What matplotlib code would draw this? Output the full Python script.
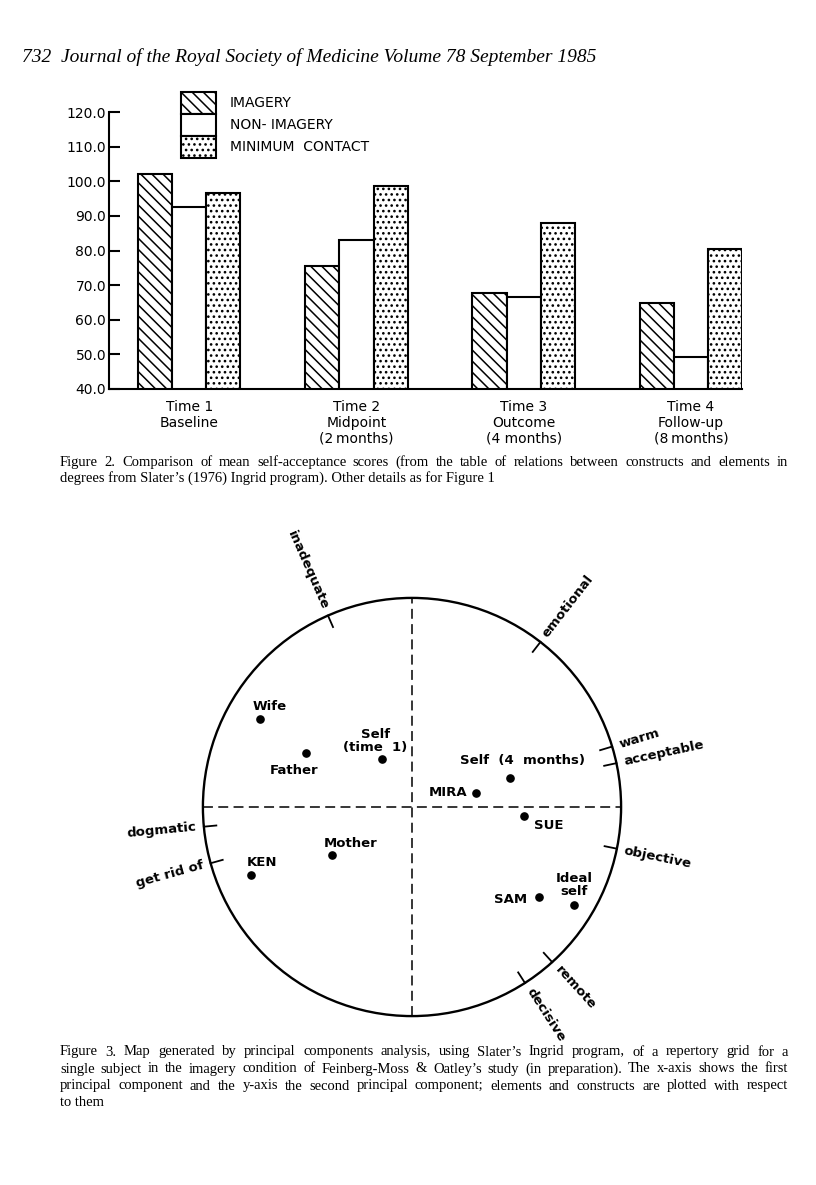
"""
Page 732, J R Soc Med 1985: Figure 2 (self-acceptance bars) and
Figure 3 (principal components map of a repertory grid).
"""

import numpy as np
import matplotlib.pyplot as plt
from matplotlib.patches import Patch, Circle

# --- Figure 2 data ---
time_labels = ["Time 1\nBaseline",
               "Time 2\nMidpoint\n(2\u2009months)",
               "Time 3\nOutcome\n(4 months)",
               "Time 4\nFollow-up\n(8\u2009months)"]
imagery = [102.0, 75.5, 67.7, 64.9]
non_imagery = [92.5, 83.0, 66.5, 49.2]
minimum_contact = [96.7, 98.5, 88.0, 80.4]
group_names = ["IMAGERY", "NON- IMAGERY", "MINIMUM  CONTACT"]
y_ticks = [40, 50, 60, 70, 80, 90, 100, 110, 120]

# --- Figure 3 data (first and second principal components) ---
element_names = ["Wife", "Father", "Self\n(time  1)", "Mother", "KEN",
                 "MIRA", "Self  (4  months)", "SUE", "SAM", "Ideal\nself"]
element_pc1 = [-0.727, -0.509, -0.145, -0.384, -0.770,
               0.305, 0.467, 0.537, 0.609, 0.775]
element_pc2 = [0.420, 0.260, 0.228, -0.230, -0.325,
               0.067, 0.140, -0.043, -0.432, -0.470]
construct_names = ["inadequate", "emotional", "warm", "acceptable", "objective",
                   "remote", "decisive", "dogmatic", "get rid of"]
construct_angles = [113.7, 52.1, 16.8, 12.1, -11.5, -47.9, -57.3, 185.4, 195.6]

# label placement for the elements (offset in points, horizontal alignment)
element_offsets = [(6.7, 9.1, 'center'), (-8.4, -13.0, 'center'),
                   (-4.7, 13.3, 'center'), (13.7, 8.4, 'center'),
                   (8.1, 8.9, 'center'), (-6.0, 0.0, 'right'),
                   (9.4, 12.2, 'center'), (17.3, -7.0, 'center'),
                   (-9.0, -1.9, 'right'), (0.0, 14.4, 'center')]

caption2 = ["Figure 2. Comparison of mean self-acceptance scores (from the table of relations between constructs and elements in",
            "degrees from Slater\u2019s (1976) Ingrid program). Other details as for Figure 1"]
caption3 = ["Figure 3. Map generated by principal components analysis, using Slater\u2019s Ingrid program, of a repertory grid for a",
            "single subject in the imagery condition of Feinberg-Moss & Oatley\u2019s study (in preparation). The x-axis shows the first",
            "principal component and the y-axis the second principal component; elements and constructs are plotted with respect",
            "to them"]

W, H = 816, 1185
plt.rcParams['hatch.linewidth'] = 1.1
fig = plt.figure(figsize=(W / 100, H / 100), dpi=100, facecolor='white')
renderer = fig.canvas.get_renderer()


def fx(px):
    return px / W


def fy(py):
    return 1 - py / H


def justified(lines, x0, x1, y0, dy, **kw):
    # set a paragraph flush on both sides, last line ragged
    for i, line in enumerate(lines):
        y = fy(y0 + dy * i)
        if i == len(lines) - 1:
            fig.text(fx(x0), y, line, va='center', **kw)
            continue
        words = line.split(' ')
        texts = [fig.text(0, y, wd, va='center', **kw) for wd in words]
        widths = [t.get_window_extent(renderer).width for t in texts]
        gap = (x1 - x0 - sum(widths)) / (len(words) - 1)
        pos = x0
        for t, wd in zip(texts, widths):
            t.set_x(fx(pos))
            pos += wd + gap


fig.text(fx(22), fy(57), "732  Journal of the Royal Society of Medicine Volume 78 September 1985",
         family='Liberation Serif', style='italic', fontsize=14, va='center')

# --- Figure 2: bars ---
ax = fig.add_axes([fx(109), fy(389), fx(742 - 109), (389 - 112) / H])
x = np.arange(len(time_labels))
w = 0.204
bar_kw = dict(width=w, bottom=40, edgecolor='black', linewidth=1.5, zorder=3)
ax.bar(x - w, np.array(imagery) - 40, color='white', hatch='\\\\\\', **bar_kw)
ax.bar(x, np.array(non_imagery) - 40, color='white', **bar_kw)
ax.bar(x + w, np.array(minimum_contact) - 40, color='white', hatch='...', **bar_kw)

ax.set_xlim(-0.48, 3 + 1.5 * w)
ax.set_ylim(40, 120)
ax.set_yticks(y_ticks, [f"{v:.1f}" for v in y_ticks])
ax.set_xticks(x, time_labels)
ax.tick_params(axis='y', direction='in', length=8, width=1.5, labelsize=10, pad=2)
ax.tick_params(axis='x', length=0, labelsize=10, pad=8)
for t in ax.get_xticklabels():
    t.set_multialignment('center')
    t.set_linespacing(1.15)
for side in ['top', 'right']:
    ax.spines[side].set_visible(False)
for side in ['left', 'bottom']:
    ax.spines[side].set_linewidth(1.5)

handles = [Patch(facecolor='white', edgecolor='black', lw=1.5, hatch='\\\\\\'),
           Patch(facecolor='white', edgecolor='black', lw=1.5),
           Patch(facecolor='white', edgecolor='black', lw=1.5, hatch='...')]
fig.legend(handles, group_names, loc='upper left', bbox_to_anchor=(fx(181), fy(92)),
           frameon=False, borderpad=0, borderaxespad=0, labelspacing=0,
           handlelength=2.5, handleheight=2.06, handletextpad=1.0, fontsize=10)

justified(caption2, 60, 788, 462, 16, family='Liberation Serif', fontsize=10.5)

# --- Figure 3: component map ---
R = 230
ax2 = fig.add_axes([fx(412 - R), fy(807 + R), 2 * R / W, 2 * R / H])
ax2.set_xlim(-1.1, 1.1)
ax2.set_ylim(-1.1, 1.1)
ax2.axis('off')
ax2.add_patch(Circle((0, 0), 1, fill=False, lw=1.7, color='black'))
dash = (0, (6.5, 3.5))
ax2.plot([-1, 1], [0, 0], color='black', lw=1.1, ls=dash)
ax2.plot([0, 0], [-1, 1], color='black', lw=1.1, ls=dash)

ax2.plot(element_pc1, element_pc2, 'o', color='black', ms=5.2)
for name, ex, ey, (ox, oy, ha) in zip(element_names, element_pc1, element_pc2, element_offsets):
    ax2.annotate(name, (ex, ey), xytext=(ox, oy), textcoords='offset points',
                 ha=ha, va='center', multialignment='center', fontsize=9.5,
                 fontweight='bold', linespacing=1.0)

for name, ang in zip(construct_names, construct_angles):
    a = np.deg2rad(ang)
    c, s = np.cos(a), np.sin(a)
    ax2.plot([c, 0.94 * c], [s, 0.94 * s], color='black', lw=1.3)
    if c > 0:
        rot, ha = ang, 'left'
    else:
        rot, ha = ang - 180, 'right'
    ax2.text(1.035 * c, 1.035 * s, name, rotation=rot, rotation_mode='anchor',
             ha=ha, va='center', fontsize=9.5, fontweight='bold')

justified(caption3, 60, 788, 1052, 17, family='Liberation Serif', fontsize=10.5)

fig.savefig('out.png', dpi=100, facecolor='white')
